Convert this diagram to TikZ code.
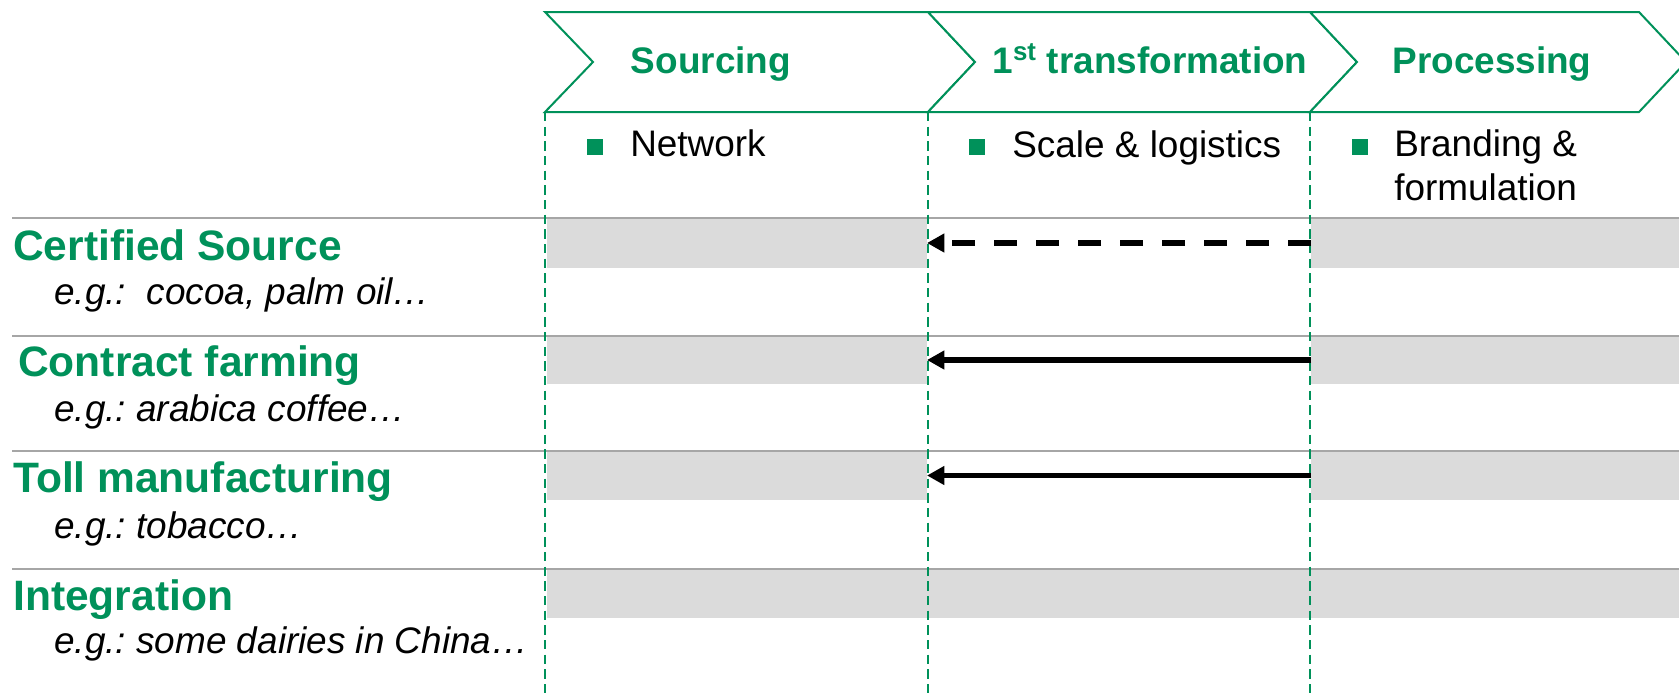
\documentclass[tikz,border=0pt]{standalone}
\usepackage{fontspec}
\setmainfont{Liberation Sans}
\usetikzlibrary{arrows.meta,fit}
\definecolor{brandgreen}{RGB}{0,145,90}
\definecolor{rulegray}{RGB}{166,166,166}
\definecolor{bandgray}{RGB}{219,219,219}
\frenchspacing
\begin{document}
\begin{tikzpicture}[x=0.75pt,y=-0.75pt,
  chev/.style={draw=brandgreen, line width=1.5pt, fill=white, line join=miter},
  stagetitle/.style={text=brandgreen, font=\fontsize{27.7}{33}\selectfont\bfseries, anchor=base, inner sep=0pt},
  bodytext/.style={font=\fontsize{27.7}{32.3}\selectfont, anchor=base west, inner sep=0pt, align=left},
  bulletsq/.style={fill=brandgreen, minimum size=12pt, inner sep=0pt},
  rowlabel/.style={text=brandgreen, font=\fontsize{31.9}{38}\selectfont\bfseries, anchor=base west, inner sep=0pt},
  example/.style={font=\fontsize{27.7}{33}\selectfont\itshape, anchor=base west, inner sep=0pt},
  band/.style={fill=bandgray, draw=none, inner sep=0pt, outer sep=0pt},
  rowrule/.style={draw=rulegray, line width=1.5pt},
  guide/.style={draw=brandgreen, line width=1.1pt, dash pattern=on 7pt off 4pt},
  flow/.style={line width=4pt, -{Triangle[length=13pt,width=13.5pt]}},
  flowdash/.style={flow, dash pattern=on 17.5pt off 14pt}
]
\useasboundingbox (0,0) rectangle (1679,694);

% grey bands behind each row
\node[band, fit={(547,218) (927,268)}] (b1l) {};
\node[band, fit={(1311,218) (1679,268)}] (b1r) {};
\node[band, fit={(547,336) (927,384)}] (b2l) {};
\node[band, fit={(1311,336) (1679,384)}] (b2r) {};
\node[band, fit={(547,451) (927,500)}] (b3l) {};
\node[band, fit={(1311,451) (1679,500)}] (b3r) {};
\node[band, fit={(547,569) (1679,618)}] (b4) {};

% row separators
\foreach \yy in {218,336,451,569}
  \draw[rowrule] (12,\yy) -- (1679,\yy);

% stage boundaries
\foreach \xx in {545,928,1310}
  \draw[guide] (\xx,112) -- (\xx,694);

% value-chain chevrons
\draw[chev] (545,12) -- (928,12) -- (975,62) -- (928,112) -- (545,112) -- (593,62) -- cycle;
\draw[chev] (928,12) -- (1310,12) -- (1357,62) -- (1310,112) -- (928,112) -- (975,62) -- cycle;
\draw[chev] (1310,12) -- (1639,12) -- (1686,62) -- (1639,112) -- (1310,112) -- (1357,62) -- cycle;

\node[stagetitle] (t1) at (711,73) {Sourcing};
\node[stagetitle] (t2) at (1150,73) {1\textsuperscript{st} transformation};
\node[stagetitle] (t3) at (1492,73) {Processing};

% key capability of each stage
\node[bulletsq] (s1) at (595,147) {};
\node[bodytext] (c1) at (630,156) {Network};
\node[bulletsq] (s2) at (977,147) {};
\node[bodytext] (c2) at (1012,157) {Scale \& logistics};
\node[bulletsq] (s3) at (1360,147) {};
% base anchor of a two-line node sits on its last line
\node[bodytext] (c3) at (1394,200) {Branding \&\\formulation};

% sourcing models
\node[rowlabel] (l1) at (13,260) {Certified Source};
\node[example] (e1) at (54,304) {e.g.:\ \ cocoa, palm oil…};
\node[rowlabel] (l2) at (18,376) {Contract farming};
\node[example] (e2) at (54,421) {e.g.: arabica coffee…};
\node[rowlabel] (l3) at (13,492) {Toll manufacturing};
\node[example] (e3) at (54,538) {e.g.: tobacco…};
\node[rowlabel] (l4) at (13,610) {Integration};
\node[example] (e4) at (54,653) {e.g.: some dairies in China…};

% links between processing and sourcing
\draw[flowdash] (b1r.west) -- (b1l.east);
\draw[flow] (b2r.west) -- (b2l.east);
\draw[flow] (b3r.west) -- (b3l.east);
\end{tikzpicture}
\end{document}
